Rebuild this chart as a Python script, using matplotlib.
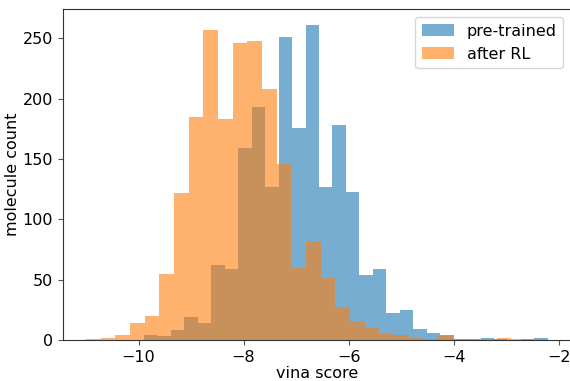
import numpy as np
import matplotlib
matplotlib.use('Agg')
import matplotlib.pyplot as plt

# bin ranges (30 bins each)
pre_range = (-9.895, -2.204)
rl_range = (-11.0, -2.62)

pre_counts = [4, 3, 8, 19, 14, 62, 59, 159, 193, 127,
              251, 176, 261, 127, 178, 123, 54, 59, 22, 25,
              9, 6, 4, 1, 1, 2, 1, 0, 1, 2]
rl_counts = [1, 2, 4, 14, 20, 55, 122, 185, 257, 183,
             246, 248, 208, 146, 60, 82, 51, 27, 16, 10,
             5, 4, 2, 1, 3, 1, 0, 1, 2, 1]

labels = ['pre-trained', 'after RL']

plt.rcParams['font.size'] = 11.5

fig = plt.figure(figsize=(5.70, 3.81), dpi=100)
ax = fig.add_axes([0.1104, 0.1076, 0.8912, 0.868])

pre_edges = np.linspace(pre_range[0], pre_range[1], len(pre_counts) + 1)
rl_edges = np.linspace(rl_range[0], rl_range[1], len(rl_counts) + 1)

ax.hist(pre_edges[:-1], bins=pre_edges, weights=pre_counts, alpha=0.6, label=labels[0])
ax.hist(rl_edges[:-1], bins=rl_edges, weights=rl_counts, alpha=0.6, label=labels[1])

ax.set_xlabel('vina score', labelpad=1)
ax.set_ylabel('molecule count', labelpad=2)
ax.set_xticks([-10, -8, -6, -4, -2])
for s in ax.spines.values():
    s.set_color('#333333')
ax.tick_params(color='#555555')
ax.legend(loc='upper right')

fig.savefig('out.png', dpi=100)
